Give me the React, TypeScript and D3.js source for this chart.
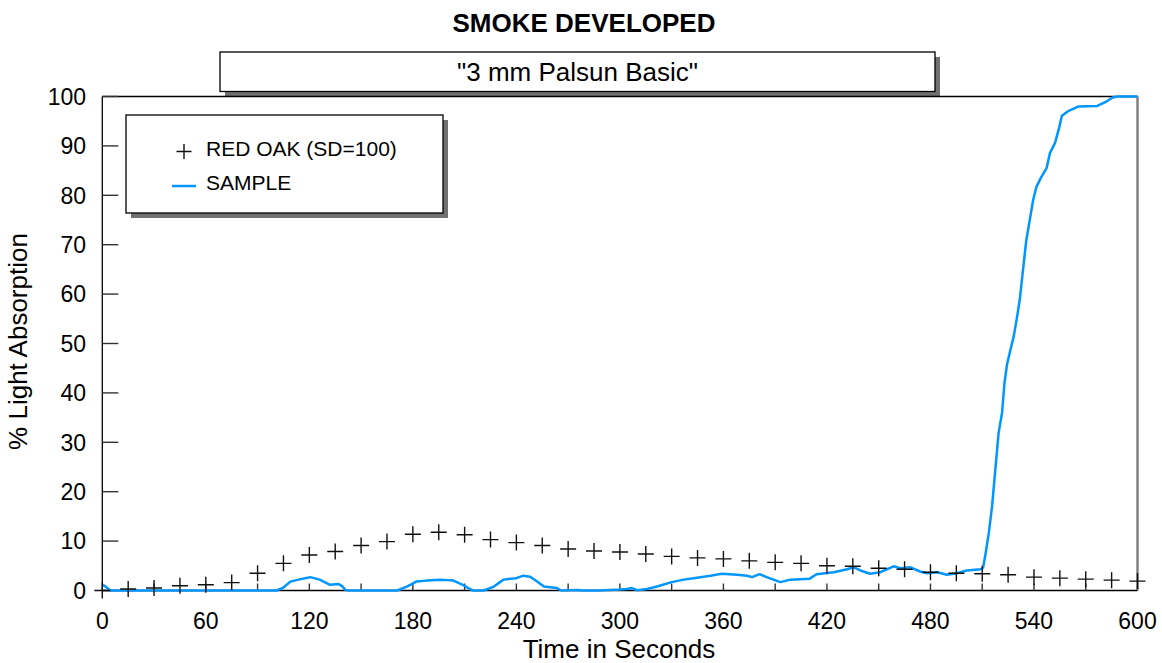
import React from "react";
import * as d3 from "d3";

// ---- data ----
const redOakTimes = [0, 15, 30, 45, 60, 75, 90, 105, 120, 135, 150, 165, 180, 195, 210, 225, 240, 255, 270, 285, 300, 315, 330, 345, 360, 375, 390, 405, 420, 435, 450, 465, 480, 495, 510, 525, 540, 555, 570, 585, 600];
const redOakValues = [0, 0.3, 0.5, 0.95, 1.15, 1.6, 3.5, 5.5, 7.2, 7.9, 9.1, 9.9, 11.4, 11.8, 11.3, 10.3, 9.7, 9.1, 8.4, 8.0, 7.8, 7.4, 6.9, 6.6, 6.4, 6.0, 5.7, 5.5, 5.0, 4.9, 4.5, 4.3, 3.7, 3.5, 3.4, 3.2, 2.7, 2.5, 2.3, 2.1, 1.9];

const sampleTimes = [0, 2, 4.5, 101, 105, 109, 115, 120.5, 126, 132, 137, 139, 141, 143, 171, 176.5, 182, 188, 196, 200, 203.5, 209, 213, 215, 221, 227, 232.5, 240, 244, 248, 252, 256, 263.5, 266, 276, 278, 288, 300, 304, 307, 310, 315.7, 321.5, 330, 337, 344.7, 352.5, 359, 368, 373.7, 376.6, 381, 385, 393, 398.8, 410, 414, 424, 431.7, 435.6, 439.4, 445, 451, 458.7, 462.6, 468.4, 474, 478, 484, 489.5, 495.4, 501, 509, 510.5, 512, 513.8, 515.7, 517.6, 519.5, 521.5, 522.9, 524.4, 526.4, 528.3, 530.3, 531.8, 533.2, 535.5, 537.5, 539.5, 541.4, 544.4, 547.3, 549.3, 552.2, 554.6, 556.2, 560.1, 565.9, 576.7, 581.6, 585.5, 588.4, 600];
const sampleValues = [1.2, 0.8, 0, 0, 0.6, 1.8, 2.3, 2.7, 2.2, 1.15, 1.3, 0.9, 0.1, 0, 0, 0.8, 1.8, 2.0, 2.2, 2.1, 2.0, 1.15, 0.3, 0, 0, 0.8, 2.2, 2.5, 3.0, 2.8, 1.8, 0.8, 0.5, 0, 0.1, 0, 0, 0.2, 0.3, 0.5, 0.05, 0.3, 0.8, 1.7, 2.2, 2.6, 3.0, 3.4, 3.2, 3.0, 2.7, 3.3, 2.7, 1.7, 2.2, 2.4, 3.3, 3.7, 4.3, 4.7, 4.05, 3.4, 3.7, 4.9, 4.5, 4.7, 3.85, 3.5, 3.7, 3.2, 3.5, 4.05, 4.3, 4.6, 7.6, 11.6, 17, 24.5, 31.9, 36, 42, 45.8, 48.8, 51.5, 55.6, 59, 63.5, 70.8, 74.9, 79, 81.7, 83.8, 85.5, 88.6, 90.6, 93.7, 96.1, 97.1, 98, 98.1, 98.9, 99.8, 100, 100];

const xLabelTicks = [0, 60, 120, 180, 240, 300, 360, 420, 480, 540, 600];
const xAllTicks = [30, 60, 90, 120, 150, 180, 210, 240, 270, 300, 330, 360, 390, 420, 450, 480, 510, 540, 570];
const yTicks = [0, 10, 20, 30, 40, 50, 60, 70, 80, 90, 100];

const title = "SMOKE DEVELOPED";
const subtitle = "\"3 mm Palsun Basic\"";
const xTitle = "Time in Seconds";
const yTitle = "% Light Absorption";
const redOakLabel = "RED OAK (SD=100)";
const sampleLabel = "SAMPLE";

const FONT = "'Liberation Sans', Arial, Helvetica, sans-serif";
const BLUE = "#0096ff";
const SHADOW = "#717171";

export default function App() {
  const left = 102.3, right = 1137.5, top = 96.5, bottom = 590.5;
  const x = d3.scaleLinear().domain([0, 600]).range([left, right]);
  const y = d3.scaleLinear().domain([0, 100]).range([bottom, top]);

  const sampleData = sampleTimes.map((t, i) => [t, sampleValues[i]] as [number, number]);
  const line = d3.line<[number, number]>().x((d) => x(d[0])).y((d) => y(d[1]));
  const pathD = line(sampleData) || "";

  const plus = (cx: number, cy: number, h: number, key: string) => (
    <path key={key} d={`M${cx - h},${cy}H${cx + h}M${cx},${cy - h}V${cy + h}`} stroke="#111" strokeWidth={1.4} fill="none" />
  );

  return (
    <svg width={1162} height={663} style={{ position: "absolute", left: 0, top: 0, display: "block", background: "#fff" }} fontFamily={FONT}>
      {/* title */}
      <text x={584} y={32} textAnchor="middle" fontSize={26} fontWeight="bold" fill="#000">{title}</text>

      {/* subtitle box */}
      <rect x={225} y={57} width={715} height={39.5} fill={SHADOW} />
      <rect x={220} y={52} width={715} height={39.5} fill="#fff" stroke="#000" strokeWidth={1.3} />
      <text x={577.5} y={81} textAnchor="middle" fontSize={26} fill="#000">{subtitle}</text>

      {/* frame */}
      <line x1={left} x2={right} y1={top} y2={top} stroke="#000" strokeWidth={1.3} />
      <line x1={right} x2={right} y1={top} y2={bottom} stroke="#808080" strokeWidth={2.5} />
      <line x1={left} x2={left} y1={top} y2={bottom + 0.5} stroke="#000" strokeWidth={1.3} />
      <line x1={left} x2={right} y1={bottom} y2={bottom} stroke="#000" strokeWidth={1.3} />

      {/* y ticks */}
      {yTicks.map((v) => (
        <g key={"y" + v}>
          <line x1={left} x2={left + 16} y1={y(v)} y2={y(v)} stroke="#333" strokeWidth={1.4} />
          <text x={86} y={y(v) + 8.3} textAnchor="end" fontSize={23} fill="#000">{v}</text>
        </g>
      ))}

      {/* x ticks */}
      {xAllTicks.map((v) => (
        <line key={"xt" + v} x1={x(v)} x2={x(v)} y1={bottom} y2={bottom - 7} stroke="#333" strokeWidth={1.4} />
      ))}
      {xLabelTicks.map((v) => (
        <text key={"xl" + v} x={x(v)} y={628.5} textAnchor="middle" fontSize={23} fill="#000">{v}</text>
      ))}

      {/* axis titles */}
      <text x={619} y={658} textAnchor="middle" fontSize={26} fill="#000">{xTitle}</text>
      <text transform={`translate(27,341.5) rotate(-90)`} textAnchor="middle" fontSize={26} fill="#000">{yTitle}</text>

      {/* sample line */}
      <path d={pathD} fill="none" stroke={BLUE} strokeWidth={2.5} strokeLinejoin="round" />

      {/* red oak markers */}
      {redOakTimes.map((t, i) => plus(x(t), y(redOakValues[i]), 8, "ro" + t))}

      {/* legend */}
      <rect x={131} y={120} width={317} height={98} fill={SHADOW} />
      <rect x={126} y={115} width={317} height={98} fill="#fff" stroke="#000" strokeWidth={1.3} />
      {plus(184, 151.5, 7.5, "legplus")}
      <text x={206} y={156} fontSize={21} fill="#000">{redOakLabel}</text>
      <line x1={172} x2={196} y1={186} y2={186} stroke={BLUE} strokeWidth={2.5} />
      <text x={206} y={190} fontSize={21} fill="#000">{sampleLabel}</text>
    </svg>
  );
}
